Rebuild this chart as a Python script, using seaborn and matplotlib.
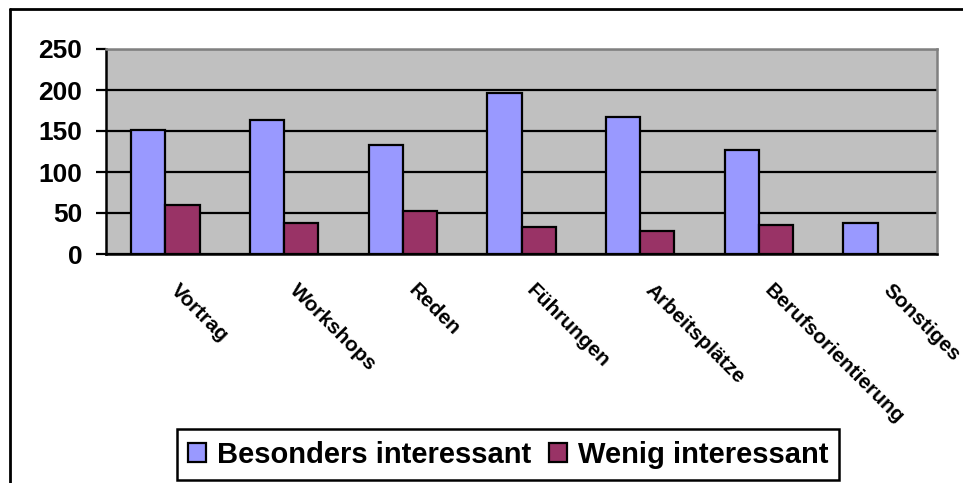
import matplotlib
matplotlib.use("Agg")
import matplotlib.pyplot as plt
from matplotlib.lines import Line2D
from matplotlib.ticker import FixedLocator
from matplotlib.transforms import ScaledTranslation
import pandas as pd
import seaborn as sns

categories = ["Vortrag", "Workshops", "Reden", "Führungen",
              "Arbeitsplätze", "Berufsorientierung", "Sonstiges"]
besonders = [151, 164, 133, 196, 167, 127, 38]
wenig = [60, 38, 52, 33, 28, 35, None]
series_names = ["Besonders interessant", "Wenig interessant"]
y_ticks = [0, 50, 100, 150, 200, 250]

rows = []
for cat, b, w in zip(categories, besonders, wenig):
    rows.append({"Kategorie": cat, "Serie": series_names[0], "Wert": b})
    if w is not None:
        rows.append({"Kategorie": cat, "Serie": series_names[1], "Wert": w})
df = pd.DataFrame(rows)

sns.set_theme(style="white")
plt.rcParams["font.family"] = ["Liberation Sans", "DejaVu Sans"]
plt.rcParams["font.weight"] = "bold"
plt.rcParams["text.color"] = "black"
plt.rcParams["xtick.color"] = "black"
plt.rcParams["ytick.color"] = "black"
plt.rcParams["axes.labelcolor"] = "black"

W, H = 963, 483
fig = plt.figure(figsize=(W / 100, H / 100), dpi=100)
fig.patch.set_facecolor("white")
ax = fig.add_axes([106 / W, 1 - 254 / H, (937 - 106) / W, (254 - 49) / H])

palette = {series_names[0]: "#9999FF", series_names[1]: "#993366"}
sns.barplot(data=df, x="Kategorie", y="Wert", hue="Serie", order=categories,
            hue_order=series_names, palette=palette, width=0.576, gap=0,
            edgecolor="black", linewidth=1.6, saturation=1, ax=ax, zorder=3)

ax.set_facecolor("#C0C0C0")
ax.set_xlim(-0.5, len(categories) - 0.5)
ax.set_ylim(0, 250)
ax.set_yticks(y_ticks)
ax.set_yticklabels([str(t) for t in y_ticks], fontsize=19, fontweight="bold",
                   color="black")
ax.yaxis.grid(True, color="black", linewidth=1.6, zorder=1)
ax.xaxis.grid(False)
ax.set_axisbelow(True)
ax.set_xlabel("")
ax.set_ylabel("")

# category labels on major ticks (hidden), boundary marks on minor ticks
ax.xaxis.set_minor_locator(FixedLocator([i - 0.5 for i in range(len(categories) + 1)]))
ax.tick_params(axis="x", which="major", length=0, pad=16)
ax.tick_params(axis="x", which="minor", length=5, width=1.6, color="black", direction="out")
ax.tick_params(axis="y", which="major", length=7, width=1.6, color="black",
               direction="out", pad=10, left=True)
ax.set_xticks(range(len(categories)))
ax.set_xticklabels(categories, rotation=-45, ha="left", va="top",
                   rotation_mode="anchor", fontsize=15, fontweight="bold",
                   color="black")
shift = ScaledTranslation(15 / 100, -4 / 100, fig.dpi_scale_trans)
for lbl in ax.get_xticklabels():
    lbl.set_transform(lbl.get_transform() + shift)

for side in ("left", "bottom"):
    ax.spines[side].set_color("black")
    ax.spines[side].set_linewidth(1.8)
for side in ("top", "right"):
    ax.spines[side].set_color("#808080")
    ax.spines[side].set_linewidth(1.8)

leg = ax.legend(loc="center", bbox_to_anchor=(508 / W, 1 - 454.5 / H),
                bbox_transform=fig.transFigure, ncol=2, frameon=True,
                fancybox=False, edgecolor="black", framealpha=1,
                prop={"size": 21, "weight": "bold"}, handlelength=0.62,
                handleheight=0.62, handletextpad=0.38, columnspacing=0.6,
                borderpad=0.38, borderaxespad=0)
leg.get_frame().set_linewidth(1.8)
for h in leg.legend_handles:
    h.set_edgecolor("black")
    h.set_linewidth(1.6)
for t in leg.get_texts():
    t.set_color("black")

# outer chart frame (left and top edges)
fig.add_artist(Line2D([10 / W, 10 / W], [0, 1 - 9 / H], transform=fig.transFigure,
                      color="black", linewidth=2))
fig.add_artist(Line2D([10 / W, 1], [1 - 9 / H, 1 - 9 / H], transform=fig.transFigure,
                      color="black", linewidth=2))

fig.savefig("out.png", dpi=100)
